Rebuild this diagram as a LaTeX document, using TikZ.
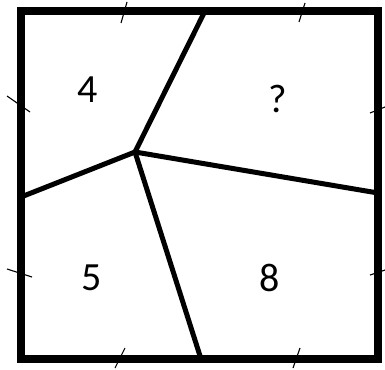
\documentclass[tikz,border=0pt]{standalone}
\usepackage{fontspec}
\setmainfont{Carlito}
\tikzstyle{frame} = [line width=7.5pt, line join=miter]
\tikzstyle{cut} = [line width=5pt, line cap=round]
\tikzstyle{tick} = [line width=1.1pt]
\tikzstyle{num} = [font=\fontsize{40}{40}\selectfont, inner sep=0pt]

\begin{document}
\begin{tikzpicture}[x=1pt, y=-1pt]
\useasboundingbox (0,0) rectangle (385,369);

% Frame
\draw [frame] (21,11) rectangle (378,359);

% Points
\coordinate (mid) at (135,152);
\coordinate (top) at (205,11);
\coordinate (left) at (21,197);
\coordinate (right) at (378,193);
\coordinate (bottom) at (201,359);

% Lines
\draw [cut] (mid) -- (top);
\draw [cut] (mid) -- (left);
\draw [cut] (mid) -- (right);
\draw [cut] (mid) -- (bottom);

% Ticks
\draw [tick] (127,2) -- (121,23);
\draw [tick] (305,3) -- (299,22);
\draw [tick] (125,348) -- (115,368);
\draw [tick] (300,348) -- (293,368);
\draw [tick] (7,96) -- (30,112);
\draw [tick] (7,269) -- (32,277);
\draw [tick] (370,113) -- (385,107);
\draw [tick] (370,275) -- (385,270);

% Nodes
\node (four) [num] at (88,90) {4};
\node (unknown) [num] at (278,99) {?};
\node (five) [num] at (92,278) {5};
\node (eight) [num] at (270,278) {8};

\end{tikzpicture}
\end{document}
